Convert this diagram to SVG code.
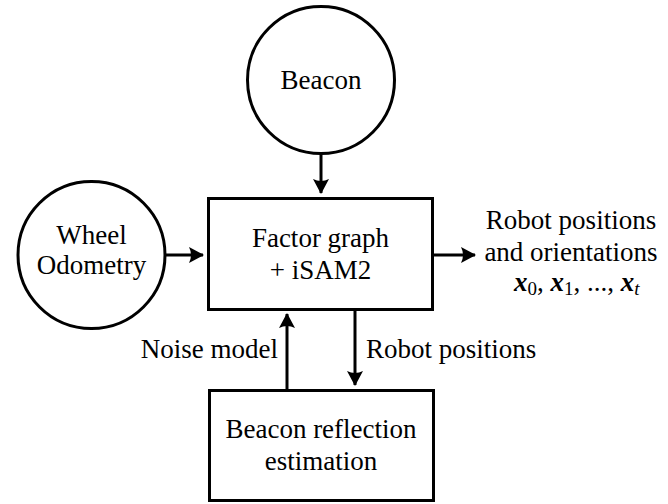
<svg xmlns="http://www.w3.org/2000/svg" width="668" height="504" viewBox="0 0 668 504">
<style>
.n{fill:#fff;stroke:#000;stroke-width:3}
.t{font-family:'Liberation Serif','DejaVu Serif',serif;font-size:27px;fill:#000;text-anchor:middle}
.e{text-anchor:end}
.s{text-anchor:start}
.c{fill:none;stroke:#000;stroke-width:3}
.m{font-family:'Liberation Serif','DejaVu Serif',serif;font-size:27px;fill:#000}
</style>
<defs>
<marker id="ah" markerUnits="userSpaceOnUse" markerWidth="24" markerHeight="24" viewBox="-20 -12 24 24" refX="0" refY="0" orient="auto">
<path d="M1,0 L-14,-8 Q-10,0 -14,8 Z" fill="#000"/>
</marker>
</defs>
<rect width="668" height="504" fill="#fff"/>
<g id="connectors">
<line class="c" x1="321" y1="154" x2="321" y2="193" marker-end="url(#ah)"/>
<line class="c" x1="166" y1="255" x2="203" y2="255" marker-end="url(#ah)"/>
<line class="c" x1="433" y1="255" x2="475" y2="255" marker-end="url(#ah)"/>
<line class="c" x1="287" y1="389" x2="287" y2="314" marker-end="url(#ah)"/>
<line class="c" x1="355" y1="310" x2="355" y2="385" marker-end="url(#ah)"/>
<text class="t e" x="278" y="358">Noise model</text>
<text class="t s" x="366" y="358">Robot positions</text>
</g>
<g id="beacon">
<circle class="n" cx="321" cy="80" r="73.5"/>
<text class="t" x="321" y="89">Beacon</text>
</g>
<g id="wheel">
<circle class="n" cx="91.5" cy="255" r="73.5"/>
<text class="t" x="91.5" y="244">Wheel</text>
<text class="t" x="91.5" y="274">Odometry</text>
</g>
<g id="factor">
<rect class="n" x="208.5" y="198.5" width="224" height="111"/>
<text class="t" x="320.5" y="247">Factor graph</text>
<text class="t" x="320.5" y="279">+ iSAM2</text>
</g>
<g id="reflection">
<rect class="n" x="209.5" y="390.5" width="224" height="110"/>
<text class="t" x="321" y="438">Beacon reflection</text>
<text class="t" x="321" y="470">estimation</text>
</g>
<g id="output">
<text class="t" x="571" y="229">Robot positions</text>
<text class="t" x="571" y="261">and orientations</text>
<text class="m" x="514" y="291"><tspan font-weight="bold" font-style="italic">x</tspan><tspan font-size="19" dy="4">0</tspan><tspan dy="-4">, </tspan><tspan font-weight="bold" font-style="italic">x</tspan><tspan font-size="19" dy="4">1</tspan><tspan dy="-4">, ..., </tspan><tspan font-weight="bold" font-style="italic">x</tspan><tspan font-size="19" font-style="italic" dy="4">t</tspan></text>
</g>
</svg>
